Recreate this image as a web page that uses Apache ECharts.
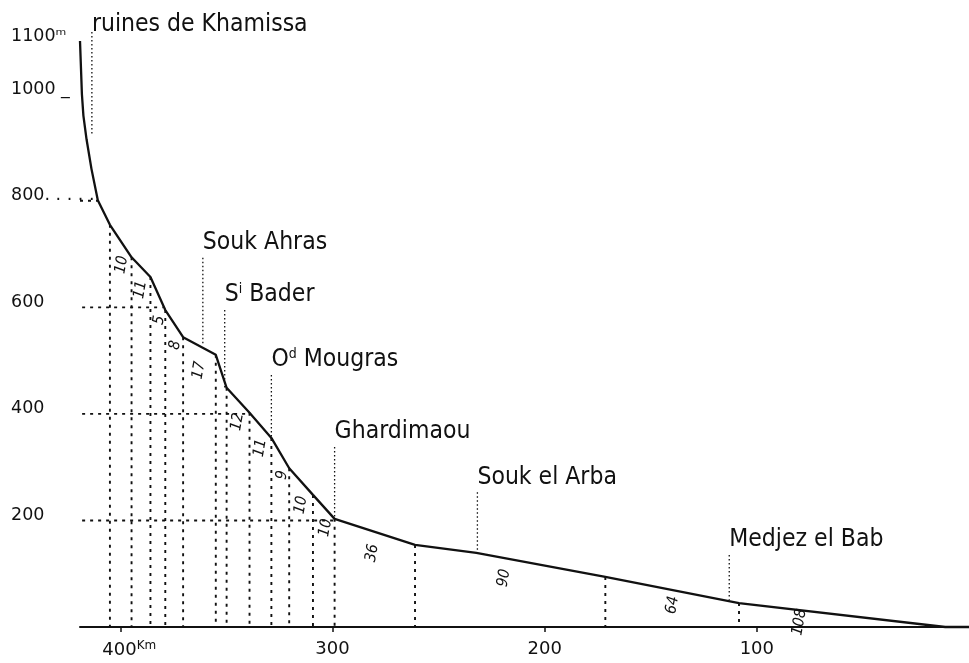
<!DOCTYPE html>
<html><head><meta charset="utf-8">
<script src="https://cdn.jsdelivr.net/npm/echarts@6/dist/echarts.min.js"></script>
<style>html,body{margin:0;padding:0;background:#fff}#c{width:969px;height:663px}</style>
</head><body><div id="c"></div>
<script>
// River profile vertices: distance from the mouth (km) and altitude (m)
const profileKm  = [419, 418.1, 417.4, 415.9, 413.6, 410.6, 404.9, 394.7, 385.8, 378.8, 370.4, 355.0, 349.9, 339.1, 328.8, 320.4, 309.2, 299.0, 261.1, 232.2, 171.4, 108.4, 11.2, 0];
const profileAlt = [1100, 1000, 960, 915, 860, 801, 755, 694, 657, 595, 544, 511, 449, 402, 355, 298, 248, 203, 154, 139, 94, 45, 0, 0];
// Vertices (index into profile) where a dashed drop line marks a section break
const breakIdx = [6, 7, 8, 9, 10, 11, 12, 13, 14, 15, 16, 17, 18, 20, 21];
// Section lengths (km) written along the profile, with their anchor (km, m)
const sectionLen = ['10', '11', '5', '8', '17', '12', '11', '9', '10', '10', '36', '90', '64', '108'];
const sectionKm  = [399.3, 390.5, 381.6, 374.1, 362.9, 344.7, 334.0, 323.7, 314.8, 303.2, 281.2, 219.1, 139.7, 79.9];
const sectionAlt = [680, 633, 576, 529, 482, 385, 336, 285, 229, 186, 139, 92, 41, 9];
// Places along the river
const placeNames   = ['ruines de Khamissa', 'Souk Ahras', 'S{sup|i} Bader', 'O{sup|d} Mougras', 'Ghardimaou', 'Souk el Arba', 'Medjez el Bab'];
const placeKm      = [413.4, 361.1, 350.8, 328.8, 299.0, 231.7, 113.0];
const placeTopAlt  = [1117, 693, 595, 473, 338, 253, 135];
const placeFootAlt = [924, 529, 449, 355, 203, 139, 51];
// Altitude guide lines
const guideAlt    = [200, 400, 600, 800];
const guideFromKm = [418, 418, 418, 419];
const guideToKm   = [299.0, 339.1, 380.0, 410.6];
// Axis ticks
const kmTicks  = [100, 200, 300, 400];
const altTicks = [200, 400, 600, 800, 1000, 1100];

const nameFont = "'DejaVu Sans Condensed','DejaVu Sans',sans-serif";
const tickFont = "'DejaVu Sans',sans-serif";
const ink = '#111';

const series = [];
series.push({
  type: 'line', silent: true, clip: false, z: 5, symbol: 'none', smooth: false,
  data: profileKm.map((k, i) => [k, profileAlt[i]]),
  lineStyle: { color: ink, width: 2.3 }
});
breakIdx.forEach(i => series.push({
  type: 'line', silent: true, z: 3, symbol: 'none',
  data: [[profileKm[i], profileAlt[i]], [profileKm[i], 0]],
  lineStyle: { color: ink, width: 1.9, type: [3, 5] }
}));
guideAlt.forEach((a, i) => series.push({
  type: 'line', silent: true, clip: false, z: 3, symbol: 'none',
  data: [[guideFromKm[i], a], [guideToKm[i], a]],
  lineStyle: { color: ink, width: 1.9, type: [3, 5] }
}));
placeNames.forEach((n, i) => series.push({
  type: 'line', silent: true, clip: false, z: 4, symbol: 'none',
  data: [[placeKm[i], placeTopAlt[i]], [placeKm[i], placeFootAlt[i]]],
  lineStyle: { color: ink, width: 1.3, type: [1.5, 2.5] }
}));
series.push({
  type: 'scatter', silent: true, clip: false, symbolSize: 0, z: 6,
  itemStyle: { opacity: 1 },
  data: placeNames.map((n, i) => ({
    value: [placeKm[i], placeTopAlt[i]], name: n,
    label: i === 0 ? { distance: -6 } : {}
  })),
  label: {
    show: true, position: 'top', align: 'left', distance: 2, opacity: 1,
    formatter: p => p.name, color: ink, fontFamily: nameFont, fontSize: 24.5, lineHeight: 26,
    rich: { sup: { fontFamily: nameFont, fontSize: 14, lineHeight: 26, verticalAlign: 'top', color: ink } }
  }
});
series.push({
  type: 'scatter', silent: true, clip: false, symbolSize: 0, z: 6,
  itemStyle: { opacity: 1 },
  data: sectionLen.map((t, i) => ({ value: [sectionKm[i], sectionAlt[i]], name: t })),
  label: {
    show: true, position: 'inside', rotate: 80, formatter: p => p.name, opacity: 1,
    color: ink, fontFamily: nameFont, fontSize: 15.5, fontStyle: 'italic'
  }
});

const chart = echarts.init(document.getElementById('c'), null, { renderer: 'canvas' });
chart.setOption({
  backgroundColor: '#fff',
  animation: false,
  grid: { left: 80, right: -8, top: 41, bottom: 36, containLabel: false },
  xAxis: {
    type: 'value', inverse: true, min: 0, max: 419, interval: 100,
    axisLine: { show: true, lineStyle: { color: ink, width: 2 } },
    axisTick: { show: true, customValues: kmTicks, length: 5, lineStyle: { color: ink, width: 1.5 } },
    splitLine: { show: false },
    axisLabel: {
      customValues: kmTicks, margin: 13, color: ink, fontFamily: tickFont, fontSize: 18,
      formatter: v => kmTicks.indexOf(v) < 0 ? '' : (v === 400 ? '{pad|}400{sup|Km}' : String(v)),
      rich: {
        pad: { width: 18 },
        sup: { fontFamily: tickFont, fontSize: 12, verticalAlign: 'top', lineHeight: 20, color: ink }
      }
    }
  },
  yAxis: {
    type: 'value', min: 0, max: 1100, interval: 100,
    axisLine: { show: false }, axisTick: { show: false }, splitLine: { show: false },
    axisLabel: {
      customValues: altTicks, align: 'left', margin: 69, verticalAlign: 'bottom', lineHeight: 10,
      color: ink, fontFamily: tickFont, fontSize: 17.5,
      formatter: v => altTicks.indexOf(v) < 0 ? '' :
        (v === 1100 ? '1100ᵐ' : (v === 1000 ? '1000 _' : (v === 800 ? '800. . . . .' : String(v))))
    }
  },
  series: series
});
</script></body></html>
